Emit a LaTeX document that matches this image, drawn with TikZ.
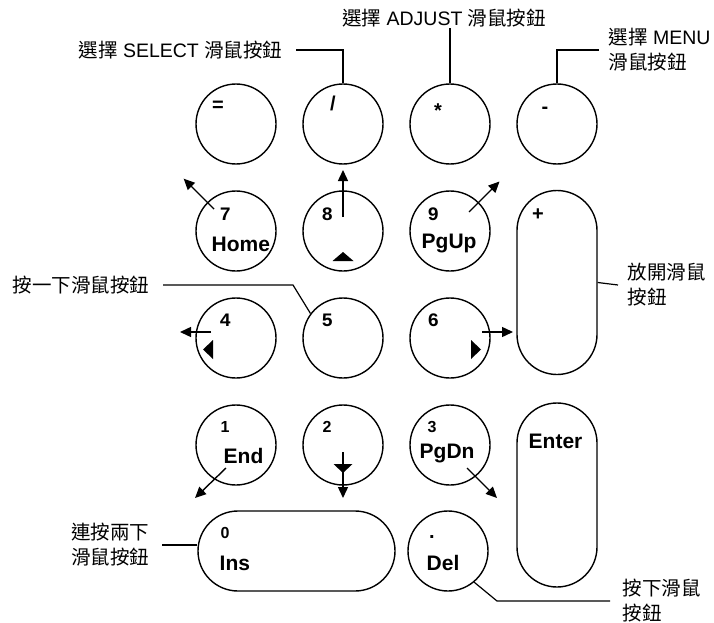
\documentclass[tikz,border=0pt]{standalone}
\usepackage{fontspec}
\setmainfont{Liberation Sans}
\newfontfamily\cjk{Noto Sans CJK TC}
\newfontfamily\keymono{Liberation Mono}
\usepackage{tikz}
\usetikzlibrary{arrows.meta,positioning,calc}
\newcommand{\zh}[1]{{\cjk #1}}

\begin{document}
\begin{tikzpicture}[x=1pt,y=1pt,>={Triangle[length=11pt,width=10pt]},line width=1.4pt,node distance=107pt]
        \tikzstyle{key} = [circle, draw, minimum size=80pt, inner sep=0pt]
        \tikzstyle{tallkey} = [draw, rounded corners=40pt, minimum width=80pt, minimum height=184pt]
        \tikzstyle{widekey} = [draw, rounded corners=40pt, minimum width=197pt, minimum height=80pt]
        \tikzstyle{sym} = [inner sep=0pt, font=\bfseries\fontsize{20}{20}\selectfont]
        \tikzstyle{num} = [anchor=base west, inner sep=0pt, font=\keymono\bfseries\fontsize{19}{19}\selectfont]
        \tikzstyle{numsf} = [anchor=base west, inner sep=0pt, font=\bfseries\fontsize{16}{16}\selectfont]
        \tikzstyle{word} = [anchor=base west, inner sep=0pt, font=\bfseries\fontsize{21}{21}\selectfont]
        \tikzstyle{note} = [inner sep=0pt, align=left, font=\fontsize{19.5}{25}\selectfont]
        \tikzstyle{callout} = [line width=1.2pt]
        \tikzstyle{move} = [->, line width=1.4pt]

        \useasboundingbox (0,0) rectangle (714,-623);

        % Keys
        \node[key] (keq) at (236,-124) {};
        \node[key, right of=keq] (kslash) {};
        \node[key, right of=kslash] (kstar) {};
        \node[key, right of=kstar] (kminus) {};
        \node[key, below of=keq] (k7) {};
        \node[key, right of=k7] (k8) {};
        \node[key, right of=k8] (k9) {};
        \node[key, below of=k7] (k4) {};
        \node[key, right of=k4] (k5) {};
        \node[key, right of=k5] (k6) {};
        \node[key, below of=k4] (k1) {};
        \node[key, right of=k1] (k2) {};
        \node[key, right of=k2] (k3) {};
        \node[widekey] (kzero) at (296.5,-551) {};
        \node[key] (kdel) at (448,-551) {};
        \node[tallkey] (kplus) at (557,-282.5) {};
        \node[tallkey] (kenter) at (557,-495) {};

        % Key caps
        \node[sym] (teq) at (218,-106) {=};
        \node[sym] (tslash) at (333,-103) {/};
        \node[sym] (tstar) at (438,-111) {*};
        \node[sym] (tminus) at (545,-110) {-};
        \node[sym] (tplus) at (538,-215) {+};
        \node[num] (t7) at (219,-220) {7};
        \node[word] (thome) at (211,-251) {Home};
        \node[num] (t8) at (321,-220) {8};
        \node[num] (t9) at (427,-220) {9};
        \node[word] (tpgup) at (421,-248) {PgUp};
        \node[num] (t4) at (219,-326) {4};
        \node[num] (t5) at (321,-326) {5};
        \node[num] (t6) at (427,-326) {6};
        \node[numsf] (t1) at (220,-432) {1};
        \node[word] (tend) at (223,-463) {End};
        \node[numsf] (t2) at (322,-432) {2};
        \node[numsf] (t3) at (427,-432) {3};
        \node[word] (tpgdn) at (419,-458) {PgDn};
        \node[numsf] (t0) at (220,-538) {0};
        \node[word] (tins) at (219,-570) {Ins};
        \node[sym] (tdot) at (432,-537) {.};
        \node[word] (tdel) at (426,-570) {Del};
        \node[word] (tenter) at (528,-448) {Enter};

        % Direction marks
        \fill (k8.center) ++(-10.5,-30) -- ++(21,0) -- ++(-10.5,9) -- cycle;
        \fill (k4.center) ++(-23,-2) -- ++(0,-19) -- ++(-10,9.5) -- cycle;
        \fill (k6.center) ++(21,-2) -- ++(0,-19) -- ++(10,9.5) -- cycle;
        \fill (k2.center) ++(-9.5,-19) -- ++(19,0) -- ++(-9.5,-9) -- cycle;

        % Moves
        \draw[move] (k7.center) ++(135:31) -- ++(135:43);
        \draw[move] (k8.center) ++(0,14) -- ++(0,47);
        \draw[move] (k9.center) ++(45:27) -- ++(45:43);
        \draw[move] (k4.center) ++(-25,6) -- ++(-31,0);
        \draw[move] (k6.center) ++(32,6) -- ++(31,0);
        \draw[move] (k1.center) ++(-10,-23) -- ++(-31,-30);
        \draw[move] (k2.center) ++(0,-7) -- ++(0,-46);
        \draw[move] (k3.center) ++(17,-23) -- ++(30,-30);

        % Notes
        \node[note, anchor=east] (lsel) at (283,-50) {\zh{選擇} SELECT \zh{滑鼠按鈕}};
        \node[note] (ladj) at (444,-18) {\zh{選擇} ADJUST \zh{滑鼠按鈕}};
        \node[note, anchor=west] (lmenu) at (608,-50) {\zh{選擇} MENU\\\zh{滑鼠按鈕}};
        \node[note, anchor=east] (lclick) at (150,-285) {\zh{按一下滑鼠按鈕}};
        \node[note, anchor=west] (lrelease) at (627,-285) {\zh{放開滑鼠}\\\zh{按鈕}};
        \node[note, anchor=east] (ldbl) at (150,-545) {\zh{連按兩下}\\\zh{滑鼠按鈕}};
        \node[note, anchor=west] (lpress) at (622,-601) {\zh{按下滑鼠}\\\zh{按鈕}};

        % Callouts
        \draw[callout] ([xshift=13pt]lsel.east) -| (kslash.north);
        \draw[callout] (kstar.north) -- (kstar.north |- ladj.south);
        \draw[callout] ([xshift=-9pt]lmenu.west) -| (kminus.north);
        \draw[callout] ([xshift=13pt]lclick.east) -- ++(130,0) -- (k5.143);
        \draw[callout] (kplus.east) -- ([xshift=-9pt]lrelease.west);
        \draw[callout] ([xshift=12pt]ldbl.east) -- (ldbl.east -| kzero.west);
        \draw[callout] (kdel.310) -- ([xshift=-125pt]lpress.west) -- ([xshift=-12pt]lpress.west);
    \end{tikzpicture}
\end{document}
